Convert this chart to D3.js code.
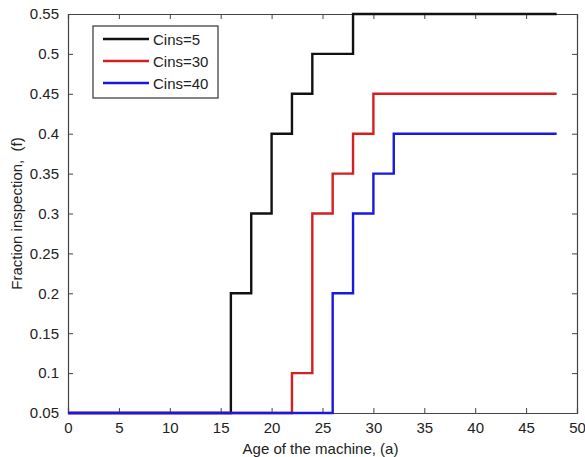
<!DOCTYPE html>
<html>
<head>
<meta charset="utf-8">
<script src="https://cdn.jsdelivr.net/npm/d3@7"></script>
<style>
  body { margin: 0; background: #fff; }
  text { font-family: "Liberation Sans", Arial, sans-serif; fill: #222; }
</style>
</head>
<body>
<svg id="chart" width="585" height="457"></svg>
<script>
// Data: step functions (age a, fraction f)
const seriesNames = ["Cins=5", "Cins=30", "Cins=40"];
const seriesColors = ["#111111", "#d42020", "#1818e0"];
const ages5  = [0, 16, 18, 20, 22, 24, 28, 48];
const frac5  = [0.05, 0.2, 0.3, 0.4, 0.45, 0.5, 0.55, 0.55];
const ages30 = [0, 22, 24, 26, 28, 30, 48];
const frac30 = [0.05, 0.1, 0.3, 0.35, 0.4, 0.45, 0.45];
const ages40 = [0, 26, 28, 30, 32, 48];
const frac40 = [0.05, 0.2, 0.3, 0.35, 0.4, 0.4];
const xTicks = [0, 5, 10, 15, 20, 25, 30, 35, 40, 45, 50];
const yTicks = [0.05, 0.1, 0.15, 0.2, 0.25, 0.3, 0.35, 0.4, 0.45, 0.5, 0.55];
const xLabel = "Age of the machine, (a)";
const yLabel = "Fraction inspection,  (f)";

const svg = d3.select("#chart");
const L = 68, R = 577, T = 14, B = 413;
const x = d3.scaleLinear().domain([0, 50]).range([L, R]);
const y = d3.scaleLinear().domain([0.05, 0.55]).range([B, T]);

const axisColor = "#444";
const tickLen = 5;

// Axes box
const fmt = d => String(+d.toFixed(2));
const gB = svg.append("g").attr("transform", `translate(0,${B})`)
  .call(d3.axisBottom(x).tickValues(xTicks).tickSize(-tickLen).tickPadding(9).tickFormat(d3.format("d")));
const gT = svg.append("g").attr("transform", `translate(0,${T})`)
  .call(d3.axisTop(x).tickValues(xTicks).tickSize(-tickLen).tickFormat(""));
const gL = svg.append("g").attr("transform", `translate(${L},0)`)
  .call(d3.axisLeft(y).tickValues(yTicks).tickSize(-tickLen).tickPadding(9).tickFormat(fmt));
const gR = svg.append("g").attr("transform", `translate(${R},0)`)
  .call(d3.axisRight(y).tickValues(yTicks).tickSize(-tickLen).tickFormat(""));
[gB, gT, gL, gR].forEach(g => {
  g.select(".domain").attr("stroke", axisColor).attr("stroke-width", 1.2);
  g.selectAll(".tick line").attr("stroke", axisColor).attr("stroke-width", 1);
  g.selectAll(".tick text").attr("font-size", 15).attr("fill", "#222")
    .attr("font-family", "'Liberation Sans', Arial, sans-serif");
});

// Lines (drawn over the axes box)
const series = [
  ages5.map((a, i) => [a, frac5[i]]),
  ages30.map((a, i) => [a, frac30[i]]),
  ages40.map((a, i) => [a, frac40[i]])
];
const line = d3.line().x(d => x(d[0])).y(d => y(d[1])).curve(d3.curveStepAfter);
series.forEach((s, i) => {
  svg.append("path").datum(s).attr("d", line)
    .attr("fill", "none").attr("stroke", seriesColors[i])
    .attr("stroke-width", 2.4).attr("stroke-linejoin", "miter");
});

// Axis labels
svg.append("text").attr("x", (L + R) / 2 - 2).attr("y", 454)
  .attr("text-anchor", "middle").attr("font-size", 15).text(xLabel);
svg.append("text").attr("transform", `translate(22,${(T + B) / 2}) rotate(-90)`)
  .attr("text-anchor", "middle").attr("font-size", 15)
  .style("white-space", "pre").text(yLabel);

// Legend
const lg = svg.append("g");
lg.append("rect").attr("x", 93).attr("y", 26).attr("width", 125).attr("height", 72)
  .attr("fill", "#fff").attr("stroke", "#333").attr("stroke-width", 1.2);
seriesNames.forEach((n, i) => {
  const yy = 39 + i * 22;
  lg.append("line").attr("x1", 103).attr("x2", 149).attr("y1", yy).attr("y2", yy)
    .attr("stroke", seriesColors[i]).attr("stroke-width", 2.4);
  lg.append("text").attr("x", 153).attr("y", yy + 5.5).attr("font-size", 15).text(n);
});
</script>
</body>
</html>
